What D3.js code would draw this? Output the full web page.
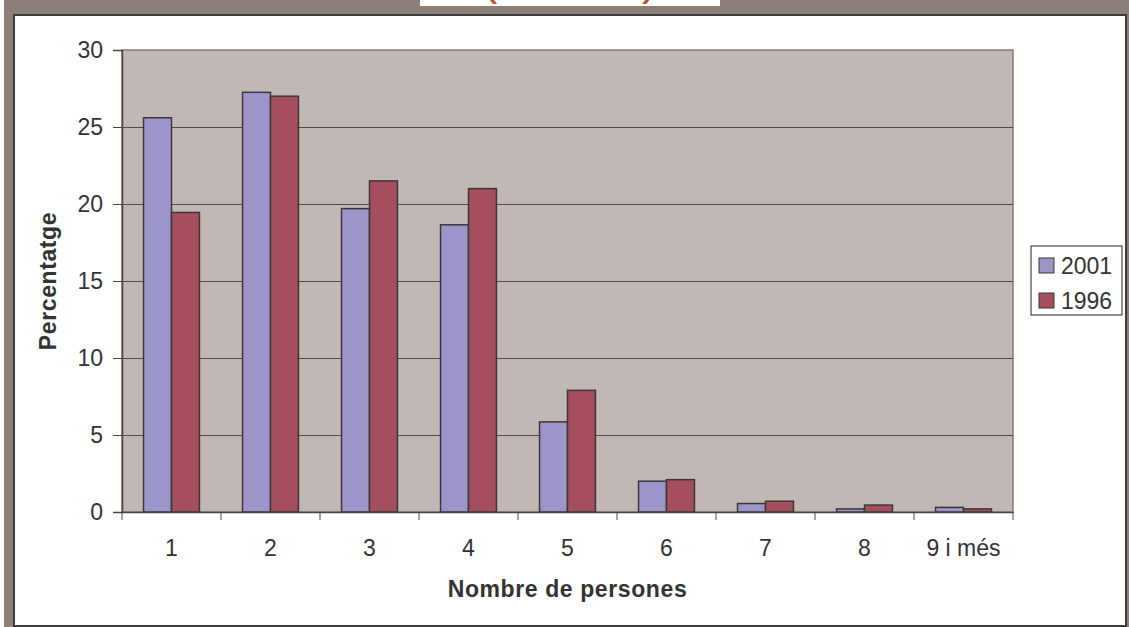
<!DOCTYPE html>
<html>
<head>
<meta charset="utf-8">
<script src="https://cdn.jsdelivr.net/npm/d3@7"></script>
<style>
  body { margin: 0; background: #fff; }
  svg { display: block; font-family: "Liberation Sans", Arial, sans-serif; }
</style>
</head>
<body>
<svg id="chart" width="1129" height="627"></svg>
<script>
// data
const categories = ["1", "2", "3", "4", "5", "6", "7", "8", "9 i més"];
const series = ["2001", "1996"];
const values2001 = [25.6, 27.25, 19.7, 18.65, 5.85, 2.0, 0.55, 0.2, 0.3];
const values1996 = [19.45, 27.0, 21.5, 21.0, 7.9, 2.1, 0.7, 0.45, 0.2];
const yTicks = [0, 5, 10, 15, 20, 25, 30];

const colors = { "2001": "#9b95c9", "1996": "#a54e5e" };
const svg = d3.select("#chart");

// outer frame
svg.append("rect").attr("x", 4).attr("y", 0).attr("width", 1125).attr("height", 627).attr("fill", "#8c7f7a");
svg.append("rect").attr("x", 420).attr("y", 0).attr("width", 300).attr("height", 6).attr("fill", "#fff");
svg.append("rect").attr("x", 14).attr("y", 15).attr("width", 1112).attr("height", 611)
    .attr("fill", "#fff").attr("stroke", "#3d3b3c").attr("stroke-width", 2);

// bottom of a cut-off title
svg.append("text").attr("x", 482).attr("y", -6).attr("font-size", 46).attr("fill", "#b5552c").text("(");
svg.append("text").attr("x", 642).attr("y", -6).attr("font-size", 46).attr("fill", "#b5552c").text(")");

const plot = { left: 122, right: 1013, top: 50, bottom: 512 };

const x0 = d3.scaleBand().domain(categories).range([plot.left, plot.right]).padding(0);
const x1 = d3.scaleBand().domain(series).range([0, x0.bandwidth()]).paddingInner(0).paddingOuter(0.77);
const y = d3.scaleLinear().domain([0, 30]).range([plot.bottom, plot.top]);

// plot background
svg.append("rect")
    .attr("x", plot.left).attr("y", plot.top)
    .attr("width", plot.right - plot.left).attr("height", plot.bottom - plot.top)
    .attr("fill", "#c1b8b5").attr("stroke", "#857b78").attr("stroke-width", 1.5);

// gridlines
svg.append("g")
    .selectAll("line")
    .data(yTicks.filter(d => d > 0 && d < 30))
    .join("line")
    .attr("x1", plot.left).attr("x2", plot.right)
    .attr("y1", d => y(d) + 0.5).attr("y2", d => y(d) + 0.5)
    .attr("stroke", "#4f4b4b").attr("stroke-width", 1);

// bars
const rows = categories.map((c, i) => ({ cat: c, vals: [
    { key: "2001", v: values2001[i] },
    { key: "1996", v: values1996[i] }
]}));

svg.append("g")
    .selectAll("g")
    .data(rows)
    .join("g")
    .attr("transform", d => `translate(${x0(d.cat)},0)`)
    .selectAll("rect")
    .data(d => d.vals)
    .join("rect")
    .attr("x", d => x1(d.key))
    .attr("y", d => y(d.v))
    .attr("width", x1.bandwidth())
    .attr("height", d => y(0) - y(d.v))
    .attr("fill", d => colors[d.key])
    .attr("stroke", "#3a3838").attr("stroke-width", 1.5);

// y axis
const yAxis = svg.append("g")
    .attr("transform", `translate(${plot.left},0)`)
    .call(d3.axisLeft(y).tickValues(yTicks).tickSize(9).tickPadding(10).tickFormat(d3.format("d")));
yAxis.select(".domain").attr("stroke", "#4a4646").attr("stroke-width", 1.5);
yAxis.selectAll(".tick line").attr("stroke", "#4a4646");
yAxis.selectAll("text").attr("font-size", 23).attr("fill", "#333").attr("font-family", "Liberation Sans, Arial, sans-serif");

// x axis
const xAxis = svg.append("g")
    .attr("transform", `translate(0,${plot.bottom})`)
    .call(d3.axisBottom(x0).tickSize(0).tickPadding(28));
xAxis.select(".domain").attr("stroke", "#4a4646").attr("stroke-width", 1.5);
xAxis.selectAll("text").attr("font-size", 23).attr("fill", "#333").attr("font-family", "Liberation Sans, Arial, sans-serif");

// x ticks between categories
const bounds = categories.map(c => x0(c)).concat([plot.right]);
svg.append("g")
    .selectAll("line")
    .data(bounds)
    .join("line")
    .attr("x1", d => d).attr("x2", d => d)
    .attr("y1", plot.bottom).attr("y2", plot.bottom + 8)
    .attr("stroke", "#4a4646").attr("stroke-width", 1);

// axis titles
svg.append("text")
    .attr("x", (plot.left + plot.right) / 2).attr("y", 597)
    .attr("text-anchor", "middle").attr("font-size", 23).attr("font-weight", "bold")
    .attr("letter-spacing", 0.6).attr("fill", "#333")
    .text("Nombre de persones");

svg.append("text")
    .attr("transform", `translate(56,${(plot.top + plot.bottom) / 2}) rotate(-90)`)
    .attr("text-anchor", "middle").attr("font-size", 23).attr("font-weight", "bold")
    .attr("letter-spacing", 0.6).attr("fill", "#333")
    .text("Percentatge");

// legend
const legend = svg.append("g").attr("transform", "translate(1031,246)");
legend.append("rect").attr("width", 91).attr("height", 69)
    .attr("fill", "#fff").attr("stroke", "#222").attr("stroke-width", 1);
const item = legend.selectAll("g.item")
    .data(series)
    .join("g")
    .attr("class", "item")
    .attr("transform", (d, i) => `translate(8,${12 + i * 35})`);
item.append("rect").attr("width", 15).attr("height", 15)
    .attr("fill", d => colors[d]).attr("stroke", "#3a3838").attr("stroke-width", 1);
item.append("text").attr("x", 22).attr("y", 15.5)
    .attr("font-size", 23).attr("fill", "#333").text(d => d);
</script>
</body>
</html>
